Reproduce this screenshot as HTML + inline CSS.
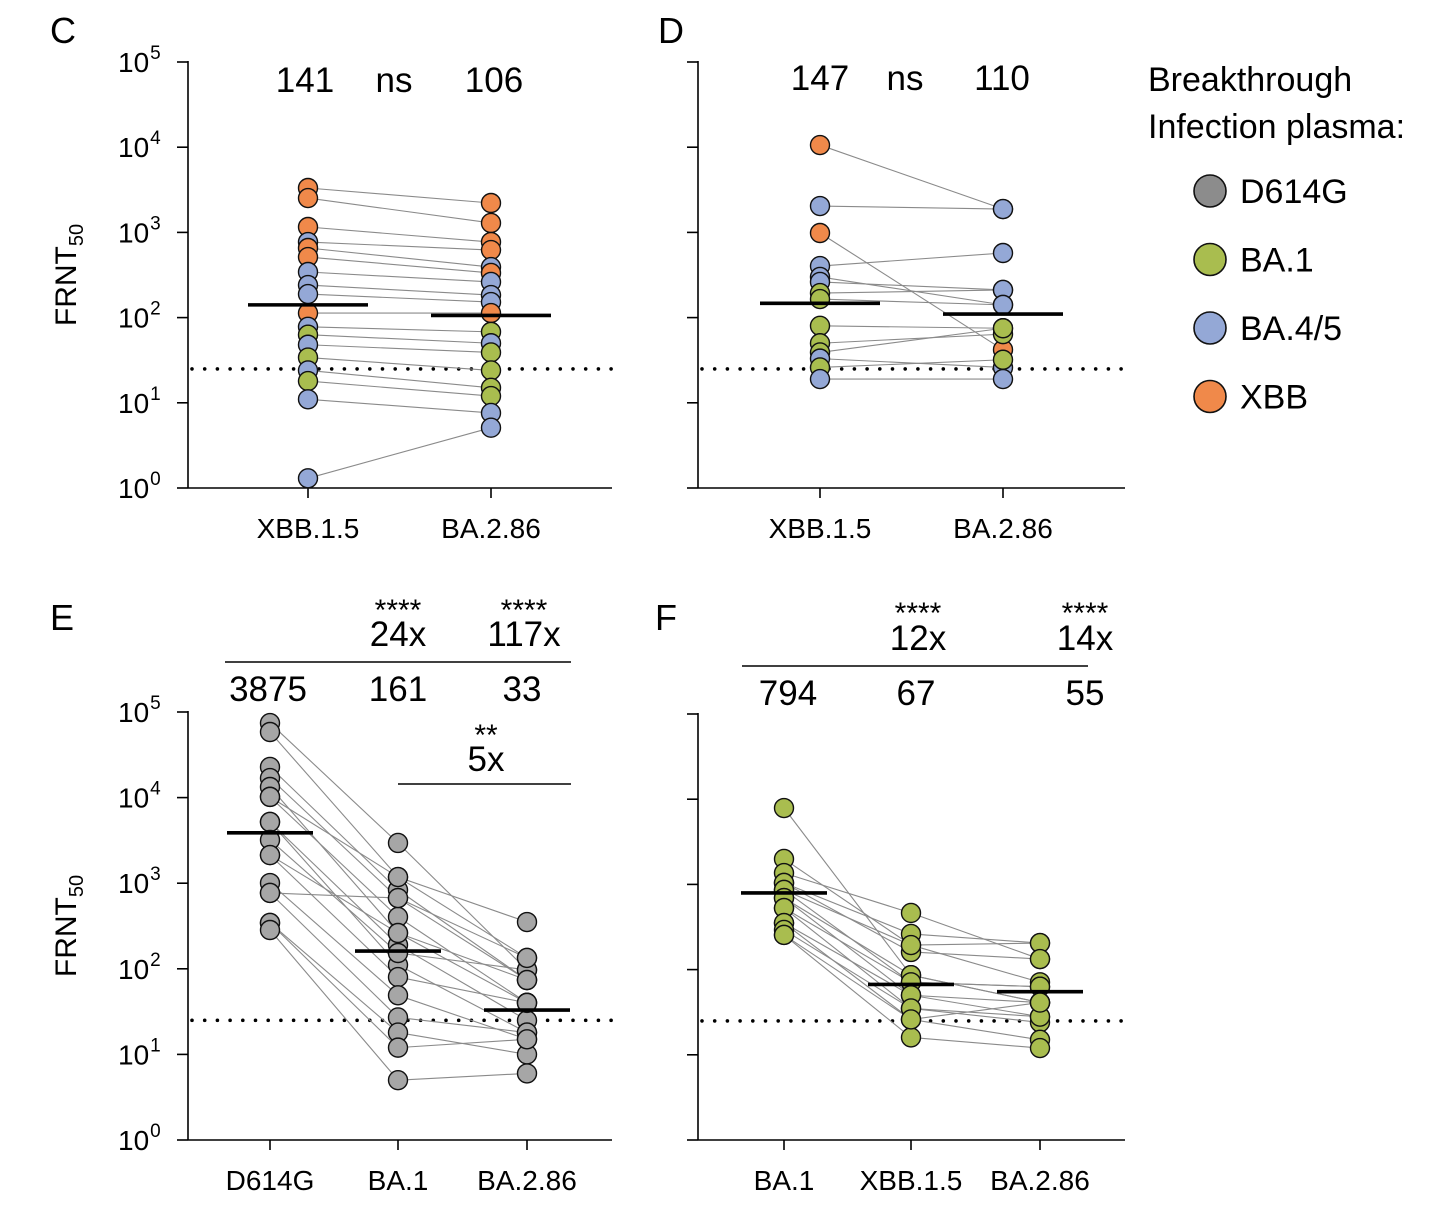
<!DOCTYPE html>
<html><head><meta charset="utf-8">
<style>
html,body{margin:0;padding:0;background:#fff;}
svg{display:block;font-family:"Liberation Sans",Arial,sans-serif;}
</style></head>
<body>
<svg id="chart" width="1456" height="1225" viewBox="0 0 1456 1225" xmlns="http://www.w3.org/2000/svg"></svg>
<script>
// ---------- DATA ----------
const cCategories = ["XBB.1.5","BA.2.86"];
const cLeft  = [3320,2530,1157,771,656,514,343,241,189,113,78,63,48,34,24,18,11,1.3];
const cRight = [2213,1290,771,621,392,334,262,184,152,113,68,50,39,24,15,12,7.6,5.1];
const cLeftColor  = ["O","O","O","B","O","O","B","B","B","O","B","G","B","G","B","G","B","B"];
const cRightColor = ["O","O","O","O","B","O","B","B","B","O","G","B","G","G","G","G","B","B"];
const cMedians = [141,106];
const cTop = ["141","ns","106"];

const dCategories = ["XBB.1.5","BA.2.86"];
const dLeft  = [10600,2040,984,403,300,262,194,165,80,50,39,33,26,19];
const dRight = [1880,1880,42,573,141,211,211,141,75,64,75,26,32,19];
const dLeftColor  = ["O","B","O","B","B","B","G","G","G","G","G","B","G","B"];
const dRightColor = ["B","B","O","B","B","B","B","B","G","G","G","B","G","B"];
const dMedians = [147,110];
const dTop = ["147","ns","110"];

const eCategories = ["D614G","BA.1","BA.2.86"];
const eD614G = [74300,58400,22800,16900,13300,10200,10200,5190,5190,3200,2130,1005,769,343,343,284,2130,769];
const eBA1   = [2950,1180,833,671,262,1180,403,190,111,153,80,49,27,18,12,5,262,671];
const eBA286 = [97,134,74,74,40,352,40,25,18,97,40,15,18,10,15,6,74,134];
const eMedians = [3875,161,33];

const fCategories = ["BA.1","XBB.1.5","BA.2.86"];
const fBA1   = [7880,1990,1360,1040,1040,860,860,692,692,528,528,352,352,292,255,255];
const fXBB   = [86,194,462,262,161,194,71,86,50,71,35,50,26,35,16,26];
const fBA286 = [41,205,133,205,133,71,63,41,28,63,24,41,15,28,12,41];
const fMedians = [794,67,55];

const limitOfDetection = 25;
const tickExponents = [0,1,2,3,4,5];
const legendLabels = ["D614G","BA.1","BA.4/5","XBB"];

const COL = {O:"#f0894a",B:"#94a8d6",G:"#a9bd4f",D:"#a6a6a6"};
const legendColors = ["#8c8c8c",COL.G,COL.B,COL.O];

// ---------- HELPERS ----------
const svg = document.getElementById('chart');
const NS = "http://www.w3.org/2000/svg";
function mk(tag, attrs, parent){
  const el = document.createElementNS(NS, tag);
  for (const k in attrs) el.setAttribute(k, attrs[k]);
  (parent||svg).appendChild(el);
  return el;
}
function txt(x,y,s,size,anchor,parent){
  const t = mk('text',{x:x,y:y,'font-size':size,'text-anchor':anchor||'middle',fill:'#000'},parent);
  t.textContent = s;
  return t;
}

function panel(cfg){
  const g = mk('g',{});
  
  
  const yScale = v => cfg.y0 - Math.log10(v)*cfg.dec;
  const L = txt(cfg.letterX, cfg.letterY, cfg.letter, 36, 'start', g);
  
  
  const ax = mk('g',{},g);
  
  
  mk('line',{x1:cfg.ax,y1:yScale(1e5)-1,x2:cfg.ax,y2:cfg.y0,stroke:'#000','stroke-width':1.6},ax);
  tickExponents.forEach(e=>{
    const y = yScale(Math.pow(10,e));
    mk('line',{x1:cfg.ax-11,y1:y,x2:cfg.ax,y2:y,stroke:'#000','stroke-width':1.6},ax);
    if (cfg.labels){
      const t = mk('text',{x:cfg.ax-70,y:y+10,'font-size':28,'text-anchor':'start'},ax);
      
      
      const b = mk('tspan',{},t); b.textContent = "10";
      const s = mk('tspan',{'font-size':19,dy:-13,dx:1},t);
      s.textContent = String(e);
    }
  });
  const xa = mk('g',{},g);
  
  
  mk('line',{x1:cfg.ax,y1:cfg.y0,x2:cfg.xEnd,y2:cfg.y0,stroke:'#000','stroke-width':1.6},xa);
  cfg.cats.forEach((c,i)=>{
    const x = cfg.xs[i];
    mk('line',{x1:x,y1:cfg.y0,x2:x,y2:cfg.y0+10,stroke:'#000','stroke-width':1.6},xa);
    const t = txt(x, cfg.y0+50, c, 28, 'middle', xa);
    
    
  });
  if (cfg.labels){
    const yt = mk('text',{x:0,y:0,'font-size':30,'text-anchor':'middle',transform:`translate(${cfg.ax-112},${(yScale(1e5)+cfg.y0)/2}) rotate(-90)`},g);
    
    
    const b = mk('tspan',{},yt); b.textContent = "FRNT";
    const s = mk('tspan',{'font-size':20,dy:7},yt); s.textContent="50";
  }
  const ly = yScale(limitOfDetection);
  const lod = mk('line',{x1:cfg.ax+4,y1:ly,x2:cfg.xEnd,y2:ly,stroke:'#000','stroke-width':3.6,'stroke-linecap':'round','stroke-dasharray':'0 12.7'},g);
  
  
  const lg = mk('g',{},g);
  
  
  const n = cfg.series[0].length;
  for (let i=0;i<n;i++){
    for (let s=0;s<cfg.series.length-1;s++){
      mk('line',{x1:cfg.xs[s],y1:yScale(cfg.series[s][i]),x2:cfg.xs[s+1],y2:yScale(cfg.series[s+1][i]),stroke:'#8a8a8a','stroke-width':1.1},lg);
    }
  }
  const pg = mk('g',{},g);
  
  
  cfg.series.forEach((ser,s)=>{
    ser.forEach((v,i)=>{
      const col = cfg.colors ? COL[cfg.colors[s][i]] : cfg.fill;
      const c = mk('circle',{cx:cfg.xs[s],cy:yScale(v),r:9.5,fill:col,stroke:'#111','stroke-width':1.4},pg);
      
      
    });
  });
  cfg.medians.forEach((m,i)=>{
    const y = yScale(m);
    const ml = mk('line',{x1:cfg.xs[i]-cfg.mw,y1:y,x2:cfg.xs[i]+cfg.mw,y2:y,stroke:'#000','stroke-width':3.6},g);
    
    
  });
  return g;
}

// ---------- PANELS ----------
const gC = panel({name:'panel-c',letter:'C',letterX:50,letterY:43,ax:188,y0:488,dec:85.2,xEnd:612,xs:[308,491],cats:cCategories,
  series:[cLeft,cRight],colors:[cLeftColor,cRightColor],medians:cMedians,mw:60,labels:true});
[[305,cTop[0]],[394,cTop[1]],[494,cTop[2]]].forEach(p=>{const t=txt(p[0],92,p[1],35,'middle',gC);});

const gD = panel({name:'panel-d',letter:'D',letterX:658,letterY:43,ax:698,y0:488,dec:85.2,xEnd:1125,xs:[820,1003],cats:dCategories,
  series:[dLeft,dRight],colors:[dLeftColor,dRightColor],medians:dMedians,mw:60,labels:false});
[[820,dTop[0]],[905,dTop[1]],[1002,dTop[2]]].forEach(p=>{const t=txt(p[0],90,p[1],35,'middle',gD);});

const gE = panel({name:'panel-e',letter:'E',letterX:50,letterY:630,ax:188,y0:1140,dec:85.6,xEnd:612,xs:[270,398,527],cats:eCategories,
  series:[eD614G,eBA1,eBA286],fill:COL.D,medians:eMedians,mw:43,labels:true});
[[268,'3875'],[398,'161'],[522,'33']].forEach(p=>{const t=txt(p[0],701,p[1],35,'middle',gE);});
[[398,620,'****',30],[398,646,'24x',35],[524,620,'****',30],[524,646,'117x',35],[486,745,'**',30],[486,771,'5x',35]].forEach(p=>{const t=txt(p[0],p[1],p[2],p[3],'middle',gE);});
mk('line',{x1:225,y1:662,x2:571,y2:662,stroke:'#000','stroke-width':1.6},gE);
mk('line',{x1:398,y1:784,x2:571,y2:784,stroke:'#000','stroke-width':1.6},gE);

const gF = panel({name:'panel-f',letter:'F',letterX:655,letterY:630,ax:698,y0:1140,dec:85.2,xEnd:1125,xs:[784,911,1040],cats:fCategories,
  series:[fBA1,fXBB,fBA286],fill:COL.G,medians:fMedians,mw:43,labels:false});
[[788,'794'],[916,'67'],[1085,'55']].forEach(p=>{const t=txt(p[0],705,p[1],35,'middle',gF);});
[[918,623,'****',30],[918,650,'12x',35],[1085,623,'****',30],[1085,650,'14x',35]].forEach(p=>{const t=txt(p[0],p[1],p[2],p[3],'middle',gF);});
mk('line',{x1:742,y1:666,x2:1088,y2:666,stroke:'#000','stroke-width':1.6},gF);

// ---------- LEGEND ----------
const lg = mk('g',{});


txt(1148,91,'Breakthrough',34,'start',lg);
txt(1148,138,'Infection plasma:',34,'start',lg);
legendLabels.forEach((l,i)=>{
  const y = 191 + i*68.5;
  const e = mk('g',{},lg);
  
  
  mk('circle',{cx:1210,cy:y,r:16,fill:legendColors[i],stroke:'#111','stroke-width':1.6},e);
  txt(1240,y+12,l,34,'start',e);
});
</script>
</body></html>
